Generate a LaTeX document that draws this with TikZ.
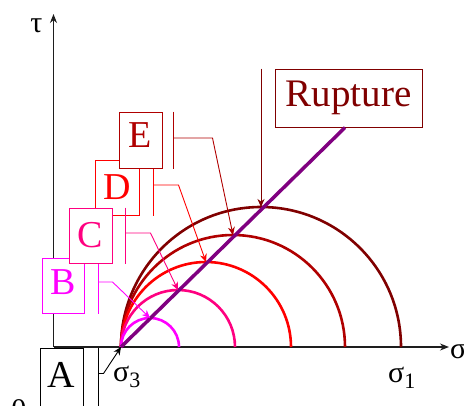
\documentclass[tikz,border=0pt]{standalone}
\usepackage{fontspec}
\setmainfont{Liberation Serif}
\usetikzlibrary{arrows.meta}
\definecolor{rupc}{RGB}{128,0,0}
\definecolor{ecol}{RGB}{176,0,0}
\definecolor{dcol}{RGB}{255,0,0}
\definecolor{ccol}{RGB}{255,0,128}
\definecolor{bcol}{RGB}{255,0,255}
\definecolor{purp}{RGB}{128,0,128}
\definecolor{axc}{RGB}{30,30,30}
\begin{document}
\begin{tikzpicture}[x=1pt,y=-1pt,
  lbox/.style={draw, line width=1pt, fill=white, inner sep=0pt, minimum width=43pt, minimum height=55pt, font=\fontsize{38}{38}\selectfont},
  lead/.style={line width=0.9pt},
  tip/.style={-{Stealth[length=8pt,width=7pt]}},
  axtip/.style={-{Stealth[length=9pt,width=7pt]}},
  mohr/.style={line width=2.6pt},
  greek/.style={inner sep=0pt, font=\fontsize{30}{30}\selectfont}]
\useasboundingbox (0,0) rectangle (464,405);
% axes
\coordinate (O) at (53.5,347);
\coordinate (taut) at (53.5,14);
\coordinate (sigt) at (449,347);
\draw[axc, line width=1.3pt, axtip] (O) -- (taut);
\draw[axc, line width=1.3pt, axtip] (O) -- (sigt);
% Mohr circles
\coordinate (s3) at (121,347);
\coordinate (t5) at (261,207);
\coordinate (t4) at (233,235);
\coordinate (t3) at (206,262);
\coordinate (t2) at (178,290);
\coordinate (t1) at (150,318);
\draw[mohr, rupc] (s3) arc[start angle=180, end angle=0, radius=140pt];
\draw[mohr, ecol] (s3) arc[start angle=180, end angle=0, radius=112pt];
\draw[mohr, dcol] (s3) arc[start angle=180, end angle=0, radius=85pt];
\draw[mohr, ccol] (s3) arc[start angle=180, end angle=0, radius=57pt];
\draw[mohr, bcol] (s3) arc[start angle=180, end angle=0, radius=29pt];
% Rupture box and envelope
\node[lbox, draw=rupc, text=rupc, minimum width=147pt, minimum height=58pt, font=\fontsize{39}{39}\selectfont] (rup) at (348.5,98) {Rupture\hspace{8pt}};
\coordinate (env) at ([xshift=-3.5pt]rup.south);
\draw[purp, line width=3.5pt] (s3) -- (env);
\draw[lead, rupc, tip] (t5 |- rup.north) -- (t5);
% B
\node[lbox, draw=bcol, text=bcol, minimum width=42pt, text depth=6pt] (B) at (63,285.5) {B};
\draw[lead, bcol] ([xshift=13.5pt]B.north east) -- ([xshift=13.5pt]B.south east);
\draw[lead, bcol, tip] ([xshift=13.5pt,yshift=3.5pt]B.east) -- ++(14.5pt,0) -- (t1);
% D
\node[lbox, draw=dcol, text=dcol, minimum width=44pt] (D) at (117,187.5) {D};
\draw[lead, dcol] ([xshift=14pt]D.north east) -- ([xshift=14pt]D.south east);
\draw[lead, dcol, tip] ([xshift=14pt,yshift=2.5pt]D.east) -- ++(25pt,0) -- (t3);
% C
\node[lbox, draw=ccol, text=ccol] (C) at (90.5,235.5) {C};
\draw[lead, ccol] ([xshift=13pt]C.north east) -- ([xshift=13pt]C.south east);
\draw[lead, ccol, tip] ([xshift=13pt,yshift=2.5pt]C.east) -- ++(25pt,0) -- (t2);
% E
\node[lbox, draw=ecol, text=ecol, minimum height=56pt, text depth=9pt] (E) at (140.5,140) {E};
\draw[lead, ecol] ([xshift=11pt]E.north east) -- ([xshift=11pt]E.south east);
\draw[lead, ecol, tip] ([xshift=11pt,yshift=2pt]E.east) -- ++(39pt,0) -- (t4);
% A
\node[lbox, draw=black, text=black, minimum height=60pt, text depth=8pt, anchor=north] (A) at (61.5,348) {A};
\draw[lead, black] ([xshift=15pt]A.north east) -- ([xshift=15pt]A.south east);
\draw[lead, black, tip] ([xshift=15pt,yshift=5pt]A.east) -- ++(5pt,0) -- (s3);
% labels
\node[greek] (tau) at (36.5,25.5) {τ};
\node[greek, anchor=west] (sig) at (450,351) {σ};
\node[greek, anchor=base west] (s3lab) at (113,381) {σ\raisebox{-6pt}{\fontsize{22}{22}\selectfont 3}};
\node[greek, anchor=base west] (s1lab) at (388,382) {σ\raisebox{-6pt}{\fontsize{22}{22}\selectfont 1}};
\node[greek, anchor=north] (zero) at (19,399) {0};
\end{tikzpicture}
\end{document}
